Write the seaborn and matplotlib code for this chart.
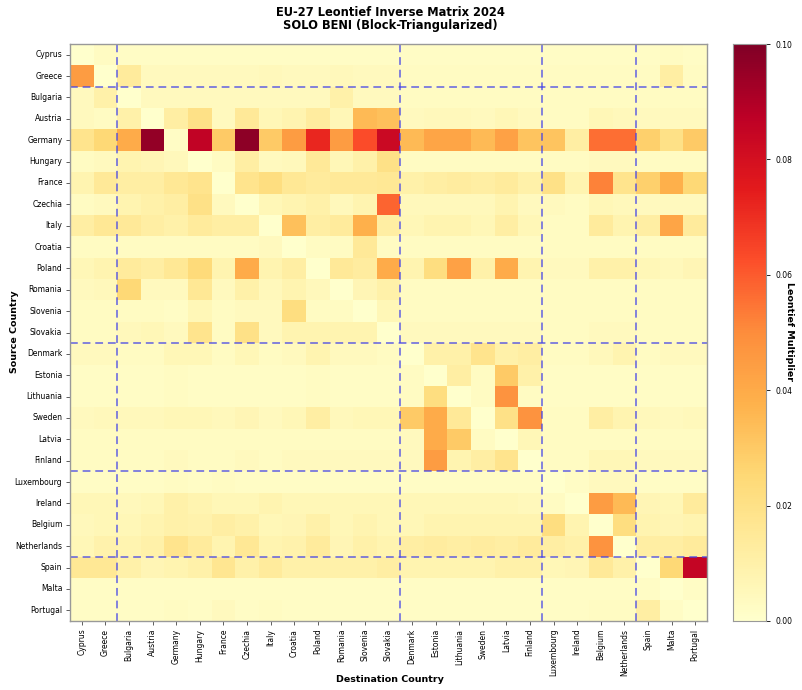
import numpy as np
import pandas as pd
import matplotlib
matplotlib.use("Agg")
import matplotlib.pyplot as plt
import seaborn as sns

countries = ["Cyprus", "Greece", "Bulgaria", "Austria", "Germany", "Hungary", "France",
             "Czechia", "Italy", "Croatia", "Poland", "Romania", "Slovenia", "Slovakia",
             "Denmark", "Estonia", "Lithuania", "Sweden", "Latvia", "Finland",
             "Luxembourg", "Ireland", "Belgium", "Netherlands", "Spain", "Malta", "Portugal"]

# block boundaries (index where a new block starts)
block_starts = [2, 14, 20, 24]

# Leontief multipliers, one list per source country (columns follow `countries`)
cyprus = [0.000, 0.003, 0.002, 0.002, 0.002, 0.002, 0.002, 0.002, 0.002, 0.002, 0.002, 0.002, 0.002, 0.002,
          0.002, 0.002, 0.002, 0.002, 0.002, 0.002, 0.002, 0.002, 0.002, 0.002, 0.002, 0.003, 0.002]
greece = [0.045, 0.000, 0.014, 0.004, 0.004, 0.004, 0.004, 0.004, 0.005, 0.004, 0.004, 0.005, 0.004, 0.004,
          0.003, 0.003, 0.003, 0.003, 0.003, 0.003, 0.003, 0.003, 0.003, 0.003, 0.003, 0.012, 0.003]
bulgaria = [0.004, 0.010, 0.000, 0.004, 0.004, 0.004, 0.004, 0.004, 0.004, 0.004, 0.004, 0.010, 0.004, 0.004,
            0.003, 0.003, 0.003, 0.003, 0.003, 0.003, 0.003, 0.003, 0.003, 0.003, 0.003, 0.003, 0.003]
austria = [0.004, 0.003, 0.010, 0.000, 0.012, 0.020, 0.004, 0.015, 0.006, 0.008, 0.013, 0.006, 0.035, 0.033,
           0.004, 0.005, 0.005, 0.004, 0.006, 0.004, 0.003, 0.003, 0.006, 0.005, 0.004, 0.004, 0.004]
germany = [0.018, 0.025, 0.040, 0.096, 0.002, 0.086, 0.030, 0.097, 0.030, 0.045, 0.072, 0.045, 0.063, 0.083,
           0.035, 0.042, 0.042, 0.035, 0.043, 0.032, 0.032, 0.012, 0.056, 0.056, 0.028, 0.020, 0.030]
hungary = [0.003, 0.004, 0.008, 0.007, 0.005, 0.000, 0.003, 0.012, 0.004, 0.005, 0.015, 0.006, 0.010, 0.020,
           0.003, 0.003, 0.003, 0.003, 0.003, 0.003, 0.003, 0.003, 0.004, 0.004, 0.003, 0.003, 0.003]
france = [0.008, 0.015, 0.012, 0.012, 0.016, 0.018, 0.000, 0.018, 0.022, 0.016, 0.014, 0.015, 0.015, 0.016,
          0.010, 0.012, 0.013, 0.012, 0.014, 0.010, 0.020, 0.008, 0.052, 0.018, 0.028, 0.038, 0.025]
czechia = [0.003, 0.004, 0.008, 0.010, 0.012, 0.020, 0.004, 0.000, 0.006, 0.008, 0.010, 0.005, 0.008, 0.058,
           0.005, 0.005, 0.005, 0.005, 0.008, 0.004, 0.004, 0.003, 0.006, 0.005, 0.004, 0.004, 0.004]
italy = [0.012, 0.016, 0.015, 0.012, 0.010, 0.014, 0.012, 0.012, 0.000, 0.033, 0.012, 0.014, 0.038, 0.012,
         0.006, 0.008, 0.008, 0.006, 0.012, 0.006, 0.003, 0.003, 0.014, 0.008, 0.012, 0.042, 0.014]
croatia = [0.003, 0.003, 0.003, 0.003, 0.003, 0.003, 0.003, 0.003, 0.004, 0.000, 0.003, 0.003, 0.015, 0.003,
           0.003, 0.003, 0.003, 0.003, 0.003, 0.003, 0.003, 0.003, 0.003, 0.003, 0.003, 0.003, 0.003]
poland = [0.006, 0.008, 0.014, 0.012, 0.016, 0.024, 0.008, 0.040, 0.008, 0.012, 0.000, 0.015, 0.013, 0.040,
          0.008, 0.022, 0.043, 0.010, 0.040, 0.008, 0.004, 0.004, 0.010, 0.010, 0.006, 0.005, 0.007]
romania = [0.004, 0.005, 0.025, 0.004, 0.004, 0.016, 0.004, 0.010, 0.005, 0.008, 0.005, 0.000, 0.007, 0.010,
           0.003, 0.003, 0.003, 0.003, 0.003, 0.003, 0.003, 0.003, 0.003, 0.003, 0.003, 0.003, 0.003]
slovenia = [0.003, 0.003, 0.003, 0.003, 0.002, 0.006, 0.003, 0.004, 0.004, 0.022, 0.003, 0.003, 0.000, 0.006,
            0.003, 0.003, 0.003, 0.003, 0.003, 0.003, 0.003, 0.003, 0.003, 0.003, 0.003, 0.003, 0.003]
slovakia = [0.003, 0.003, 0.005, 0.006, 0.004, 0.018, 0.003, 0.020, 0.004, 0.008, 0.008, 0.008, 0.008, 0.000,
            0.004, 0.004, 0.004, 0.004, 0.004, 0.004, 0.003, 0.003, 0.004, 0.004, 0.003, 0.003, 0.003]
denmark = [0.004, 0.004, 0.003, 0.003, 0.006, 0.006, 0.003, 0.006, 0.003, 0.004, 0.008, 0.004, 0.004, 0.003,
           0.000, 0.010, 0.010, 0.018, 0.010, 0.012, 0.003, 0.003, 0.005, 0.008, 0.003, 0.004, 0.004]
estonia = [0.002, 0.002, 0.002, 0.002, 0.003, 0.002, 0.002, 0.002, 0.002, 0.002, 0.003, 0.002, 0.002, 0.002,
           0.003, 0.000, 0.012, 0.003, 0.030, 0.010, 0.002, 0.002, 0.002, 0.002, 0.002, 0.002, 0.002]
lithuania = [0.002, 0.002, 0.002, 0.002, 0.003, 0.002, 0.002, 0.002, 0.002, 0.002, 0.003, 0.002, 0.002, 0.002,
             0.003, 0.022, 0.000, 0.003, 0.048, 0.003, 0.002, 0.002, 0.002, 0.002, 0.002, 0.002, 0.002]
sweden = [0.004, 0.005, 0.005, 0.005, 0.006, 0.006, 0.005, 0.007, 0.004, 0.006, 0.012, 0.005, 0.006, 0.006,
          0.030, 0.040, 0.015, 0.000, 0.020, 0.048, 0.003, 0.003, 0.012, 0.008, 0.005, 0.004, 0.005]
latvia = [0.003, 0.003, 0.003, 0.003, 0.003, 0.003, 0.003, 0.003, 0.003, 0.003, 0.003, 0.003, 0.003, 0.003,
          0.004, 0.040, 0.030, 0.003, 0.000, 0.006, 0.003, 0.003, 0.003, 0.003, 0.003, 0.003, 0.003]
finland = [0.003, 0.003, 0.003, 0.003, 0.004, 0.003, 0.003, 0.004, 0.003, 0.004, 0.004, 0.004, 0.004, 0.004,
           0.004, 0.045, 0.008, 0.012, 0.018, 0.000, 0.003, 0.003, 0.006, 0.006, 0.004, 0.004, 0.004]
luxembourg = [0.002, 0.002, 0.002, 0.002, 0.003, 0.002, 0.003, 0.002, 0.002, 0.002, 0.002, 0.002, 0.002, 0.002,
              0.002, 0.002, 0.002, 0.002, 0.002, 0.002, 0.000, 0.002, 0.004, 0.004, 0.002, 0.002, 0.002]
ireland = [0.006, 0.006, 0.005, 0.006, 0.010, 0.008, 0.006, 0.006, 0.008, 0.006, 0.006, 0.006, 0.006, 0.006,
           0.006, 0.006, 0.006, 0.006, 0.006, 0.005, 0.003, 0.000, 0.045, 0.035, 0.007, 0.006, 0.014]
belgium = [0.005, 0.006, 0.006, 0.008, 0.010, 0.009, 0.012, 0.010, 0.006, 0.007, 0.010, 0.006, 0.008, 0.006,
           0.006, 0.008, 0.008, 0.008, 0.008, 0.008, 0.022, 0.008, 0.000, 0.022, 0.008, 0.007, 0.008]
netherlands = [0.006, 0.009, 0.008, 0.010, 0.018, 0.014, 0.008, 0.016, 0.008, 0.009, 0.014, 0.007, 0.010, 0.008,
               0.012, 0.013, 0.012, 0.013, 0.012, 0.014, 0.012, 0.010, 0.048, 0.000, 0.012, 0.012, 0.014]
spain = [0.016, 0.016, 0.010, 0.007, 0.008, 0.010, 0.017, 0.010, 0.014, 0.010, 0.010, 0.010, 0.010, 0.012,
         0.008, 0.008, 0.008, 0.008, 0.010, 0.010, 0.006, 0.007, 0.015, 0.010, 0.000, 0.025, 0.085]
malta = [0.002, 0.002, 0.002, 0.002, 0.002, 0.002, 0.002, 0.002, 0.002, 0.002, 0.002, 0.002, 0.002, 0.002,
         0.002, 0.002, 0.002, 0.002, 0.002, 0.002, 0.002, 0.002, 0.002, 0.002, 0.002, 0.000, 0.002]
portugal = [0.002, 0.002, 0.002, 0.002, 0.003, 0.002, 0.004, 0.002, 0.003, 0.002, 0.002, 0.002, 0.002, 0.002,
            0.002, 0.002, 0.002, 0.002, 0.002, 0.002, 0.002, 0.002, 0.003, 0.003, 0.012, 0.002, 0.000]

rows = [cyprus, greece, bulgaria, austria, germany, hungary, france, czechia, italy, croatia,
        poland, romania, slovenia, slovakia, denmark, estonia, lithuania, sweden, latvia, finland,
        luxembourg, ireland, belgium, netherlands, spain, malta, portugal]

matrix = pd.DataFrame(np.array(rows), index=countries, columns=countries)

plt.rcParams["font.family"] = ["DejaVu Sans"]

W, H = 803, 690
fig = plt.figure(figsize=(W / 100, H / 100), dpi=100)
ax = fig.add_axes([70 / W, 1 - 621 / H, 637 / W, 577 / H])
cax = fig.add_axes([733 / W, 1 - 621 / H, 33 / W, 577 / H])

sns.heatmap(matrix, ax=ax, cbar_ax=cax, cmap="YlOrRd", vmin=0, vmax=0.1, square=False)

for b in block_starts:
    ax.axhline(b, color="#4040e8", linestyle="--", linewidth=1.4, alpha=0.65, dashes=(4, 2.5))
    ax.axvline(b, color="#4040e8", linestyle="--", linewidth=1.4, alpha=0.65, dashes=(4, 2.5))

for sp in ax.spines.values():
    sp.set_visible(True)
    sp.set_color("#999999")
    sp.set_linewidth(1.0)

ax.set_xticks(np.arange(len(countries)) + 0.5)
ax.set_xticklabels(countries, rotation=90, fontsize=5.5)
ax.set_yticks(np.arange(len(countries)) + 0.5)
ax.set_yticklabels(countries, rotation=0, fontsize=5.5)
ax.tick_params(axis="both", length=3, width=0.6, color="#444444", pad=2.5)
ax.set_xlabel("")
ax.set_ylabel("")

fig.text(390 / W, 1 - 679 / H, "Destination Country", fontsize=6.8, fontweight="bold",
         ha="center", va="center")
fig.text(15 / W, 1 - 332 / H, "Source Country", fontsize=6.8, fontweight="bold",
         ha="center", va="center", rotation=90)
fig.text(790 / W, 1 - 332 / H, "Leontief Multiplier", fontsize=6.8, fontweight="bold",
         ha="center", va="center", rotation=270)
fig.text(390 / W, 1 - 12 / H, "EU-27 Leontief Inverse Matrix 2024", fontsize=8.3,
         fontweight="bold", ha="center", va="center")
fig.text(390 / W, 1 - 25 / H, "SOLO BENI (Block-Triangularized)", fontsize=8.3,
         fontweight="bold", ha="center", va="center")

cax.tick_params(labelsize=5.5, length=3, width=0.6)
cax.set_yticks([0.0, 0.02, 0.04, 0.06, 0.08, 0.10])
cax.set_yticklabels(["0.00", "0.02", "0.04", "0.06", "0.08", "0.10"])
for sp in cax.spines.values():
    sp.set_visible(True)
    sp.set_color("#999999")

fig.savefig("out.png", dpi=100)
